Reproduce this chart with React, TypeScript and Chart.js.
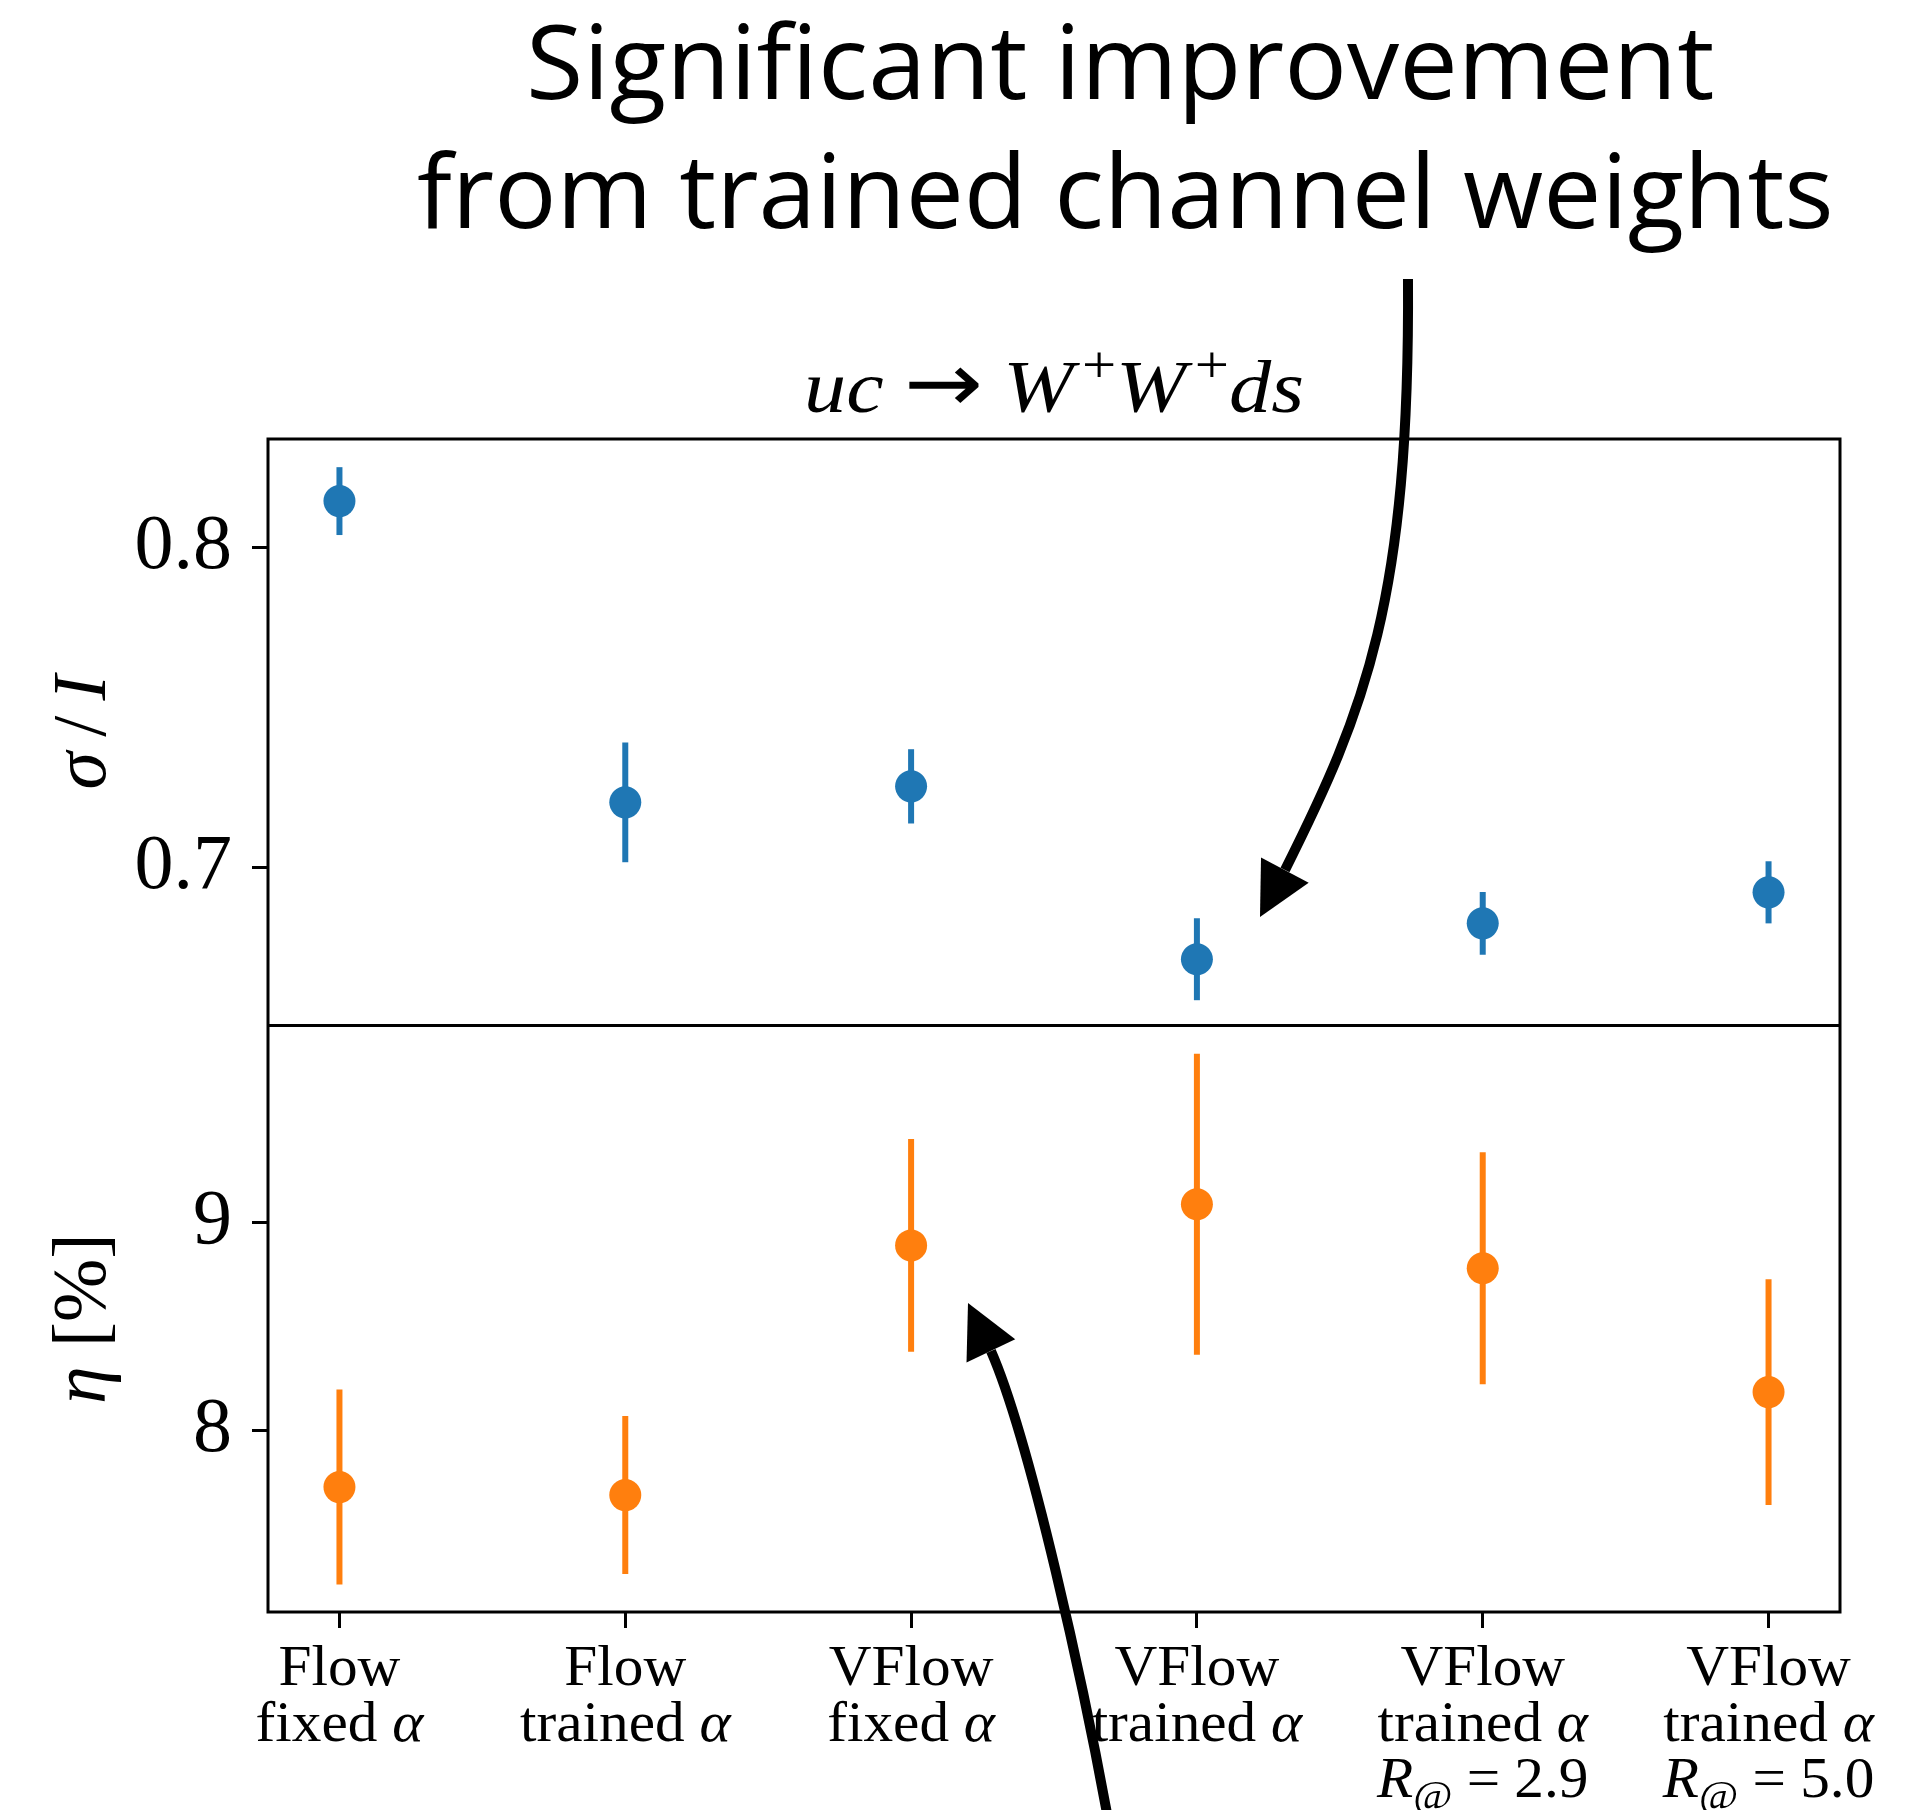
import React, { useEffect, useRef } from "react";
import { Chart, registerables } from "chart.js";

Chart.register(...registerables);

// ---------- data ----------
const categoryLines: string[][] = [
  ["Flow", "fixed $α$"],
  ["Flow", "trained $α$"],
  ["VFlow", "fixed $α$"],
  ["VFlow", "trained $α$"],
  ["VFlow", "trained $α$", "$R_{@} = 2.9$"],
  ["VFlow", "trained $α$", "$R_{@} = 5.0$"],
];
const xPositions = [0, 1, 2, 3, 4, 5];
const xRange = [-0.25, 5.25];

const sigmaValues = [0.8144, 0.7203, 0.7253, 0.6713, 0.6825, 0.6922];
const sigmaErrors = [0.0106, 0.0187, 0.0116, 0.0128, 0.0098, 0.0097];
const sigmaTicks = [0.7, 0.8];
const sigmaRange = [0.6506, 0.8338];

const etaValues = [7.726, 7.6875, 8.889, 9.087, 8.779, 8.183];
const etaErrors = [0.469, 0.38, 0.512, 0.724, 0.558, 0.543];
const etaTicks = [8, 9];
const etaRange = [7.125, 9.947];

const titleLines = ["Significant improvement", "from trained channel weights"];
const subtitle = "$uc → W^{+}W^{+}ds$";
const sigmaLabel = "$σ\u2009/\u2009I$";
const etaLabel = "$η$ [%]";

// annotation arrows in data coordinates: start, ctrl1, ctrl2, shaft end, tip
const arrowTop: number[][] = [
  [3.7385, 0.8838],
  [3.7455, 0.7835],
  [3.5881, 0.7491],
  [3.3082, 0.6992],
  [3.2207, 0.6845],
];
const arrowBottom: number[][] = [
  [2.6959, 6.0758],
  [2.6084, 6.7495],
  [2.416, 7.9524],
  [2.2795, 8.3806],
  [2.1991, 8.6116],
];

// ---------- styles ----------
const BLUE = "#1f77b4";
const ORANGE = "#ff7f0e";
const SERIF = "'Liberation Serif', 'DejaVu Serif', serif";
const SANS = "'Open Sans', 'Noto Sans', sans-serif";
const ARROW_FONT = "'DejaVu Sans', sans-serif";

type Run = {
  text: string;
  italic: boolean;
  script: number;
  family?: string;
  scale?: number;
  padBefore?: number;
  padAfter?: number;
};

function parseMath(s: string): Run[] {
  const runs: Run[] = [];
  let inMath = false;
  let i = 0;
  const isLetter = (c: string) => /\p{L}/u.test(c);
  const push = (ch: string, italic: boolean, sc: number) => {
    const last = runs[runs.length - 1];
    if (inMath && (ch === "→" || ch === "=")) {
      runs.push({
        text: ch,
        italic: false,
        script: 0,
        family: ch === "→" ? ARROW_FONT : undefined,
        scale: ch === "→" ? 1.12 : 1,
        padBefore: 0.24,
        padAfter: 0.24,
      });
      return;
    }
    if (last && last.italic === italic && last.script === sc && !last.family && !last.padAfter) {
      last.text += ch;
    } else {
      const r: Run = { text: ch, italic, script: sc };
      if (sc === 1 && last && last.italic) r.padBefore = 0.1;
      runs.push(r);
    }
  };
  while (i < s.length) {
    const ch = s[i];
    if (ch === "$") {
      inMath = !inMath;
      i++;
      continue;
    }
    if (inMath && ch === " ") {
      i++;
      continue;
    }
    if (inMath && (ch === "_" || ch === "^") && s[i + 1] === "{") {
      const end = s.indexOf("}", i + 2);
      const sc = ch === "_" ? -1 : 1;
      for (const c of s.slice(i + 2, end)) push(c, isLetter(c), sc);
      i = end + 1;
      continue;
    }
    push(ch, inMath && isLetter(ch), 0);
    i++;
  }
  return runs;
}

function runSize(r: Run, size: number) {
  return (r.script ? size * 0.72 : size) * (r.scale || 1);
}
function runFont(r: Run, size: number, family: string) {
  return `${r.italic ? "italic " : ""}${runSize(r, size)}px ${r.family || family}`;
}

function drawRuns(
  ctx: CanvasRenderingContext2D,
  str: string,
  cx: number,
  baseline: number,
  size: number,
  family: string,
  sx: number,
  targetWidth?: number
) {
  const runs = parseMath(str);
  const widths = runs.map((r) => {
    ctx.font = runFont(r, size, family);
    return ctx.measureText(r.text).width;
  });
  const pads = runs.map((r) => [(r.padBefore || 0) * size, (r.padAfter || 0) * size]);
  const w = widths.reduce((a, b, i) => a + b + pads[i][0] + pads[i][1], 0);
  const scale = targetWidth ? targetWidth / w : sx;
  ctx.save();
  ctx.translate(cx, baseline);
  ctx.scale(scale, 1);
  ctx.textAlign = "left";
  ctx.textBaseline = "alphabetic";
  ctx.fillStyle = "#000";
  let x = -w / 2;
  runs.forEach((r, i) => {
    ctx.font = runFont(r, size, family);
    x += pads[i][0];
    let dy = r.script === 1 ? -0.4 * size : r.script === -1 ? 0.2 * size : 0;
    if (r.text === "→") dy = -0.02 * size;
    ctx.fillText(r.text, x, dy);
    x += widths[i] + pads[i][1];
  });
  ctx.restore();
}

function drawInkFit(
  ctx: CanvasRenderingContext2D,
  text: string,
  left: number,
  right: number,
  baseline: number,
  font: string
) {
  ctx.save();
  ctx.font = font;
  ctx.textAlign = "left";
  ctx.textBaseline = "alphabetic";
  const m = ctx.measureText(text);
  const ink = m.actualBoundingBoxLeft + m.actualBoundingBoxRight;
  const sx = (right - left) / ink;
  ctx.translate(left, baseline);
  ctx.scale(sx, 1);
  ctx.fillStyle = "#000";
  ctx.fillText(text, m.actualBoundingBoxLeft, 0);
  ctx.restore();
}

function drawArrow(chart: any, pts: number[][], yId: string) {
  const ctx: CanvasRenderingContext2D = chart.ctx;
  const xs = chart.scales.x;
  const ys = chart.scales[yId];
  const p = pts.map((q) => [xs.getPixelForValue(q[0]), ys.getPixelForValue(q[1])]);
  const [p0, c1, c2, s, t] = p;
  ctx.save();
  ctx.strokeStyle = "#000";
  ctx.fillStyle = "#000";
  ctx.lineWidth = 10;
  ctx.lineCap = "butt";
  ctx.beginPath();
  ctx.moveTo(p0[0], p0[1]);
  ctx.bezierCurveTo(c1[0], c1[1], c2[0], c2[1], s[0], s[1]);
  ctx.stroke();
  const dx = t[0] - s[0];
  const dy = t[1] - s[1];
  const len = Math.hypot(dx, dy);
  const ux = dx / len;
  const uy = dy / len;
  const headLen = 53;
  const halfW = 27;
  const bx = t[0] - ux * headLen;
  const by = t[1] - uy * headLen;
  ctx.beginPath();
  ctx.moveTo(t[0], t[1]);
  ctx.lineTo(bx - uy * halfW, by + ux * halfW);
  ctx.lineTo(bx + uy * halfW, by - ux * halfW);
  ctx.closePath();
  ctx.fill();
  ctx.restore();
}

const errorBarPlugin = {
  id: "errorBars",
  beforeDatasetsDraw(chart: any) {
    const ctx: CanvasRenderingContext2D = chart.ctx;
    const xs = chart.scales.x;
    const sets = [
      { vals: sigmaValues, errs: sigmaErrors, y: chart.scales.y, color: BLUE },
      { vals: etaValues, errs: etaErrors, y: chart.scales.y2, color: ORANGE },
    ];
    ctx.save();
    ctx.lineWidth = 6;
    ctx.lineCap = "butt";
    sets.forEach((s) => {
      ctx.strokeStyle = s.color;
      s.vals.forEach((v, i) => {
        const px = xs.getPixelForValue(xPositions[i]);
        ctx.beginPath();
        ctx.moveTo(px, s.y.getPixelForValue(v - s.errs[i]));
        ctx.lineTo(px, s.y.getPixelForValue(v + s.errs[i]));
        ctx.stroke();
      });
    });
    ctx.restore();
  },
};

const decorPlugin = {
  id: "decor",
  afterDraw(chart: any) {
    const ctx: CanvasRenderingContext2D = chart.ctx;
    const area = chart.chartArea;
    const xs = chart.scales.x;
    const yTop = chart.scales.y;
    const yBot = chart.scales.y2;

    // frame + divider
    ctx.save();
    ctx.strokeStyle = "#000";
    ctx.lineWidth = 3;
    ctx.strokeRect(area.left, area.top, area.right - area.left, area.bottom - area.top);
    ctx.beginPath();
    ctx.moveTo(area.left, yTop.bottom);
    ctx.lineTo(area.right, yTop.bottom);
    ctx.stroke();
    ctx.restore();

    // x tick labels
    categoryLines.forEach((lines, i) => {
      const px = xs.getPixelForValue(xPositions[i]);
      lines.forEach((ln, k) => {
        drawRuns(ctx, ln, px, area.bottom + 73 + k * 56, 57, SERIF, 1.04);
      });
    });

    // y axis labels (rotated)
    const drawYLabel = (txt: string, cy: number) => {
      ctx.save();
      ctx.translate(105, cy);
      ctx.rotate(-Math.PI / 2);
      drawRuns(ctx, txt, 0, 0, 76, SERIF, 1.0);
      ctx.restore();
    };
    drawYLabel(sigmaLabel, (yTop.top + yTop.bottom) / 2);
    drawYLabel(etaLabel, (yBot.top + yBot.bottom) / 2);

    // subtitle
    drawRuns(ctx, subtitle, (area.left + area.right) / 2, area.top - 27, 74, SERIF, 1, 500);

    // title
    drawInkFit(ctx, titleLines[0], 531, 1713, 99, `102px ${SANS}`);
    drawInkFit(ctx, titleLines[1], 418, 1830, 228, `102px ${SANS}`);

    // arrows
    drawArrow(chart, arrowTop, "y");
    drawArrow(chart, arrowBottom, "y2");
  },
};

function setTicks(values: number[]) {
  return (scale: any) => {
    scale.ticks = values.map((v) => ({ value: v }));
  };
}

const tickGrid = {
  drawOnChartArea: false,
  drawTicks: true,
  tickLength: 16,
  tickWidth: 3,
  tickColor: "#000",
};

export default function App() {
  const ref = useRef<HTMLCanvasElement>(null);
  useEffect(() => {
    document.body.style.margin = "0";
    const canvas = ref.current!;
    const chart = new Chart(canvas, {
      type: "scatter",
      data: {
        datasets: [
          {
            label: "sigma",
            data: sigmaValues.map((v, i) => ({ x: xPositions[i], y: v })),
            xAxisID: "x",
            yAxisID: "y",
            pointRadius: 16,
            pointHoverRadius: 16,
            backgroundColor: BLUE,
            borderWidth: 0,
          },
          {
            label: "eta",
            data: etaValues.map((v, i) => ({ x: xPositions[i], y: v })),
            xAxisID: "x",
            yAxisID: "y2",
            pointRadius: 16,
            pointHoverRadius: 16,
            backgroundColor: ORANGE,
            borderWidth: 0,
          },
        ],
      },
      options: {
        responsive: false,
        maintainAspectRatio: false,
        devicePixelRatio: 1,
        animation: false,
        events: [],
        layout: { padding: { top: 439, right: 91, left: 0, bottom: 0 } },
        plugins: { legend: { display: false }, tooltip: { enabled: false }, title: { display: false } },
        scales: {
          x: {
            type: "linear",
            position: "bottom",
            min: xRange[0],
            max: xRange[1],
            bounds: "data",
            afterBuildTicks: setTicks(xPositions),
            ticks: { display: false },
            grid: tickGrid,
            border: { display: false },
            afterFit: (s: any) => {
              s.height = 198;
            },
          },
          y: {
            type: "linear",
            position: "left",
            stack: "panels",
            stackWeight: 1,
            weight: 1,
            min: sigmaRange[0],
            max: sigmaRange[1],
            bounds: "data",
            afterBuildTicks: setTicks(sigmaTicks),
            ticks: {
              font: { family: SERIF, size: 78 },
              color: "#000",
              padding: 20,
              callback: (v: any) => String(v),
            },
            grid: tickGrid,
            border: { display: false },
            afterFit: (s: any) => {
              s.width = 268;
            },
          },
          y2: {
            type: "linear",
            position: "left",
            stack: "panels",
            stackWeight: 1,
            weight: 0,
            min: etaRange[0],
            max: etaRange[1],
            bounds: "data",
            afterBuildTicks: setTicks(etaTicks),
            ticks: {
              font: { family: SERIF, size: 78 },
              color: "#000",
              padding: 20,
              callback: (v: any) => String(v),
            },
            grid: tickGrid,
            border: { display: false },
            afterFit: (s: any) => {
              s.width = 268;
            },
          },
        },
      } as any,
      plugins: [errorBarPlugin, decorPlugin],
    });
    return () => chart.destroy();
  }, []);
  return (
    <canvas
      ref={ref}
      width={1931}
      height={1810}
      style={{ display: "block", width: "1931px", height: "1810px" }}
    />
  );
}
